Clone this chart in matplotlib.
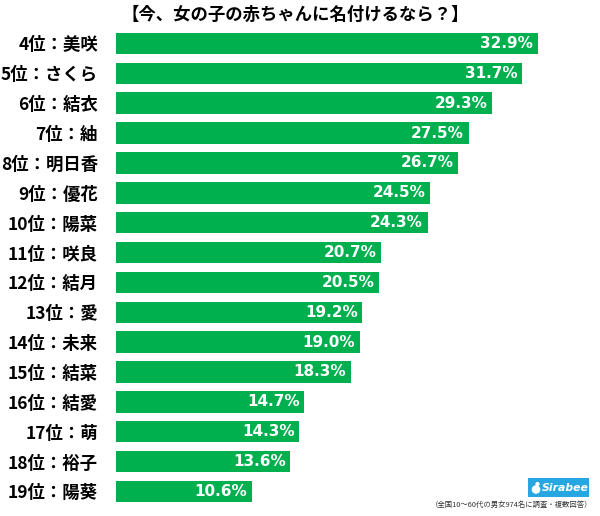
import matplotlib
matplotlib.use("Agg")
import matplotlib.pyplot as plt
from matplotlib.patches import FancyBboxPatch, Circle

plt.rcParams['font.family'] = ['Noto Sans CJK JP', 'DejaVu Sans']

title = "【今、女の子の赤ちゃんに名付けるなら？】"
labels = ["4位：美咲", "5位：さくら", "6位：結衣", "7位：紬", "8位：明日香", "9位：優花",
          "10位：陽菜", "11位：咲良", "12位：結月", "13位：愛", "14位：未来", "15位：結菜",
          "16位：結愛", "17位：萌", "18位：裕子", "19位：陽葵"]
values = [32.9, 31.7, 29.3, 27.5, 26.7, 24.5, 24.3, 20.7, 20.5, 19.2, 19.0, 18.3,
          14.7, 14.3, 13.6, 10.6]
footnote = "（全国10～60代の男女974名に調査・複数回答）"
logo_text = "Sirabee"

green = "#00B04F"
W, H = 600, 516
fig = plt.figure(figsize=(W / 100, H / 100), dpi=100)

left_px, right_px = 116, 560
top_px, bottom_px = 28.5, 506.4
ax = fig.add_axes([left_px / W, 1 - bottom_px / H, (right_px - left_px) / W, (bottom_px - top_px) / H])
scale = 12.82
ax.set_xlim(0, (right_px - left_px) / scale)
n = len(values)
ax.set_ylim(n - 0.5, -0.5)
ypos = list(range(n))
ax.barh(ypos, values, height=0.72, color=green, linewidth=0)
for y, v in zip(ypos, values):
    ax.annotate(f"{v:.1f}%", (v, y), xytext=(-3.2, 0), textcoords="offset points",
                ha="right", va="center", color="white", fontsize=11, fontweight="bold",
                family="DejaVu Sans")
ax.set_yticks(ypos)
ax.set_yticklabels(labels, fontsize=12.5, fontweight="bold")
ax.tick_params(axis="y", length=0, pad=13)
ax.set_xticks([])
for s in ax.spines.values():
    s.set_visible(False)

fig.text(0.492, 1 - 15 / H, title, ha="center", va="center", fontsize=12.5, fontweight="bold")
fig.text(592 / W, 1 - 505 / H, footnote, ha="right", va="center", fontsize=5.3, color="#333333")

# logo
lax = fig.add_axes([0, 0, 1, 1], facecolor="none")
lax.set_xlim(0, W)
lax.set_ylim(H, 0)
lax.axis("off")
lax.add_patch(FancyBboxPatch((528, 478), 61, 19, boxstyle="square,pad=0", color="#27A7E1", linewidth=0))
lax.add_patch(Circle((536, 489.5), 3.6, color="white"))
lax.add_patch(Circle((537.5, 484), 1.4, color="white"))
lax.text(541.5, 487.8, logo_text, ha="left", va="center", color="white", fontsize=7.8,
         fontweight="bold", style="italic", family="DejaVu Sans")

fig.savefig("out.png", dpi=100)
